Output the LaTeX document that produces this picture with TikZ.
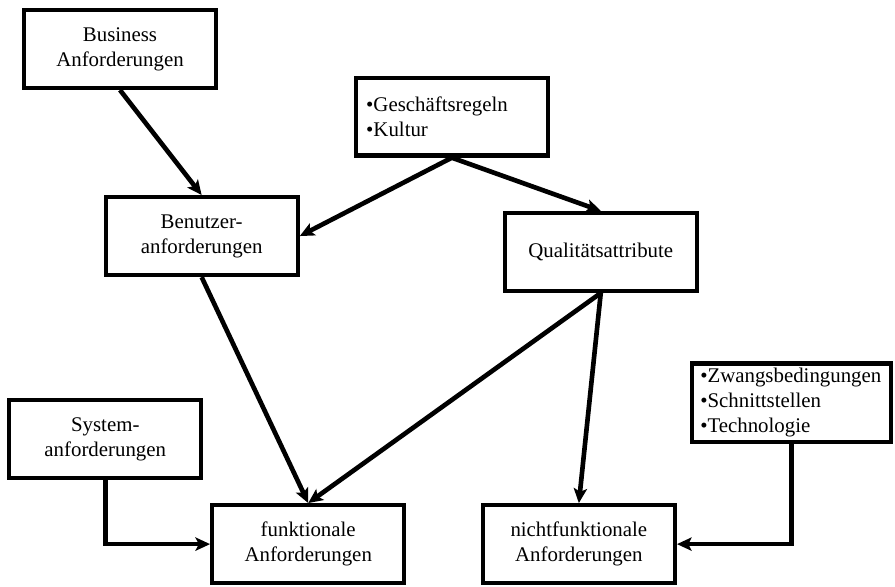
\documentclass[tikz,border=0pt]{standalone}
\usepackage{fontspec}
\setmainfont{Liberation Serif}
\usetikzlibrary{arrows.meta}

\begin{document}
\begin{tikzpicture}[node distance=3cm,
	box/.style={draw, rectangle, line width=3.2pt, minimum width=5.08cm, minimum height=2.06cm, inner sep=0pt, align=center, font=\fontsize{15.7}{18.75}\selectfont},
	listbox/.style={box, align=left},
	arr/.style={->, >={Stealth[length=11pt,width=10pt,inset=2.5pt]}, line width=3.5pt}]
	\useasboundingbox (0,0) rectangle (23.68,-15.53);

	\node [box] (biz) at (3.175,-1.296) {Business\\Anforderungen};
	\node [box, below of=biz, xshift=2.16cm, yshift=-1.95cm] (benutzer) {Benutzer-\\anforderungen};
	\node [listbox, text width=129pt, right of=biz, xshift=5.78cm, yshift=-1.79cm] (regeln) {\textbullet Geschäftsregeln\\\textbullet Kultur};
	\node [box, right of=benutzer, xshift=7.56cm, yshift=-0.42cm] (quali) {Qualitätsattribute};

	\node [box, below of=benutzer, xshift=2.82cm, yshift=-5.15cm] (funk) {funktionale\\Anforderungen};
	\node [box, left of=funk, xshift=-2.37cm, yshift=2.78cm] (system) {System-\\anforderungen};
	\node [box, right of=funk, xshift=4.16cm] (nicht) {nichtfunktionale\\Anforderungen};
	\node [listbox, text width=137pt, minimum width=150pt, minimum height=59pt, right of=nicht, xshift=2.62cm, yshift=3.74cm] (zwang) {\textbullet Zwangsbedingungen\\\textbullet Schnittstellen\\\textbullet Technologie};

	\draw [arr] (biz.south) -- (benutzer.north);
	\draw [arr] (regeln.south) -- (benutzer.east);
	\draw [arr] (regeln.south) -- (quali.north);
	\draw [arr] (benutzer.south) -- (funk.north);
	\draw [arr] (quali.south) -- (funk.north);
	\draw [arr] (quali.south) -- (nicht.north);
	\draw [arr] (system.south) |- (funk.west);
	\draw [arr] (zwang.south) |- (nicht.east);
\end{tikzpicture}
\end{document}
